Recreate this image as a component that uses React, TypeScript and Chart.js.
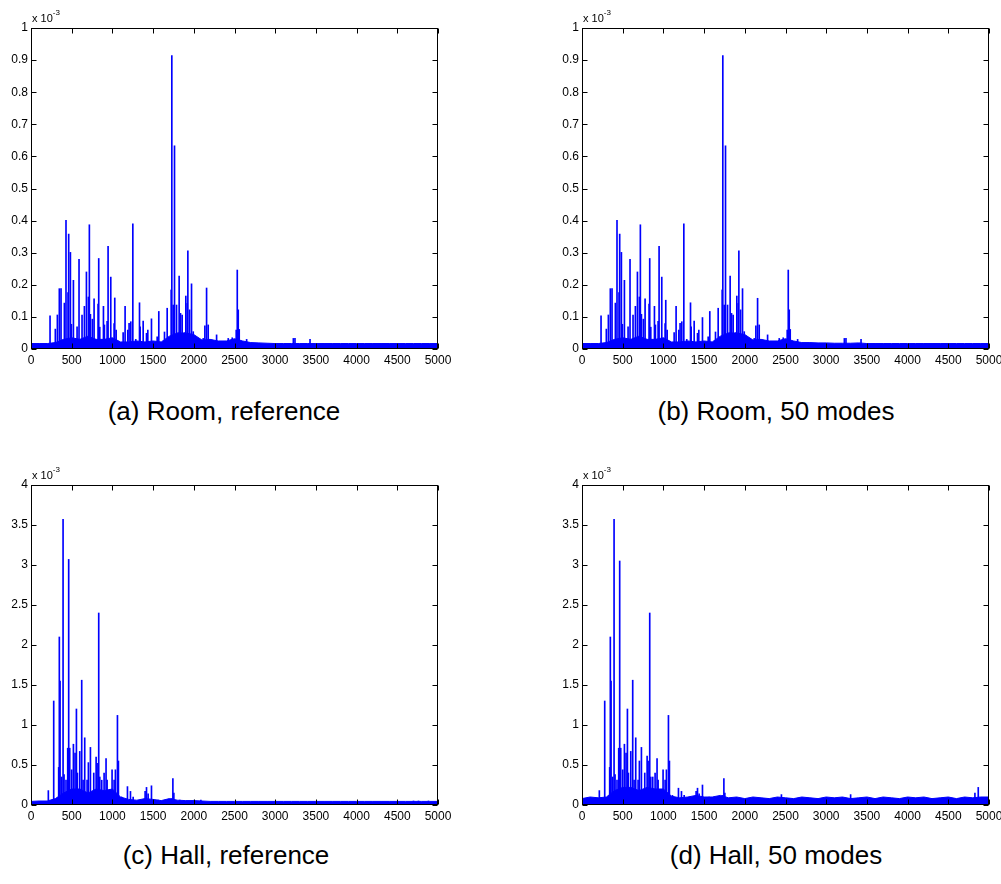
import React, { useEffect, useRef } from "react";
import { Chart, registerables } from "chart.js";
Chart.register(...registerables);

// ---------- DATA (magnitudes in units of 10^-3) ----------
const xTickLabels = ["0", "500", "1000", "1500", "2000", "2500", "3000", "3500", "4000", "4500", "5000"];
const floorStepHz = 100; // floor envelopes are sampled every 100 Hz, 0..5000

// Room: spike frequencies (Hz)
const roomFreqs = [234, 299, 324, 348, 369, 410, 430, 455, 463, 484, 496, 521, 566, 590, 627, 656, 681, 705, 717, 730, 754, 775, 824, 832, 845, 890, 902, 935, 947, 980, 1021, 1029, 1046, 1132, 1156, 1189, 1205, 1226, 1251, 1287, 1333, 1341, 1378, 1419, 1435, 1480, 1550, 1570, 1640, 1673, 1722, 1730, 1747, 1763, 1788, 1812, 1820, 1837, 1857, 1890, 1902, 1919, 1927, 1948, 1972, 1993, 2116, 2136, 2157, 2177, 2280, 2423, 2472, 2521, 2534, 2546, 2558, 2649, 3223, 3243, 3428];
// (a) Room, reference
const roomRefValues = [0.103, 0.062, 0.106, 0.188, 0.188, 0.143, 0.401, 0.176, 0.358, 0.301, 0.077, 0.214, 0.069, 0.279, 0.106, 0.133, 0.240, 0.162, 0.387, 0.108, 0.093, 0.156, 0.140, 0.282, 0.068, 0.133, 0.075, 0.086, 0.320, 0.224, 0.079, 0.159, 0.059, 0.051, 0.133, 0.059, 0.080, 0.085, 0.390, 0.030, 0.144, 0.069, 0.087, 0.049, 0.059, 0.094, 0.038, 0.117, 0.053, 0.127, 0.184, 0.914, 0.137, 0.633, 0.137, 0.050, 0.227, 0.111, 0.106, 0.050, 0.165, 0.142, 0.306, 0.122, 0.203, 0.054, 0.033, 0.072, 0.190, 0.075, 0.044, 0.033, 0.035, 0.059, 0.246, 0.122, 0.061, 0.030, 0.033, 0.033, 0.030];
// (b) Room, 50 modes
const roomModeValues = [0.103, 0.062, 0.106, 0.188, 0.188, 0.143, 0.401, 0.176, 0.358, 0.301, 0.077, 0.214, 0.069, 0.279, 0.106, 0.133, 0.240, 0.162, 0.387, 0.108, 0.093, 0.156, 0.140, 0.282, 0.068, 0.133, 0.075, 0.086, 0.320, 0.224, 0.079, 0.152, 0.059, 0.051, 0.133, 0.059, 0.080, 0.085, 0.390, 0.030, 0.144, 0.069, 0.087, 0.049, 0.059, 0.098, 0.038, 0.117, 0.053, 0.127, 0.184, 0.914, 0.137, 0.633, 0.137, 0.050, 0.227, 0.111, 0.106, 0.050, 0.165, 0.142, 0.306, 0.122, 0.188, 0.054, 0.033, 0.072, 0.158, 0.075, 0.044, 0.033, 0.035, 0.059, 0.246, 0.122, 0.061, 0.030, 0.033, 0.033, 0.030];
const roomRefFloor = [0.017, 0.017, 0.017, 0.02, 0.03, 0.035, 0.03, 0.04, 0.03, 0.03, 0.035, 0.022, 0.022, 0.025, 0.022, 0.025, 0.022, 0.04, 0.05, 0.05, 0.045, 0.028, 0.03, 0.025, 0.025, 0.032, 0.025, 0.02, 0.019, 0.018, 0.017, 0.017, 0.017, 0.017, 0.017, 0.017, 0.017, 0.017, 0.017, 0.017, 0.017, 0.017, 0.017, 0.017, 0.017, 0.017, 0.017, 0.017, 0.017, 0.017, 0.017];
const roomModeFloor = [0.017, 0.017, 0.017, 0.02, 0.03, 0.035, 0.03, 0.04, 0.03, 0.03, 0.035, 0.022, 0.022, 0.025, 0.022, 0.025, 0.022, 0.04, 0.05, 0.05, 0.045, 0.028, 0.03, 0.025, 0.025, 0.032, 0.025, 0.02, 0.02, 0.019, 0.019, 0.018, 0.018, 0.018, 0.019, 0.017, 0.017, 0.017, 0.017, 0.017, 0.017, 0.017, 0.017, 0.017, 0.017, 0.017, 0.017, 0.017, 0.017, 0.017, 0.017];

// Hall (c) reference
const hallRefFreqs = [213, 279, 320, 340, 348, 357, 377, 394, 406, 430, 451, 463, 476, 500, 521, 541, 558, 570, 599, 623, 640, 660, 689, 705, 730, 771, 800, 812, 832, 845, 869, 898, 922, 935, 996, 1021, 1037, 1062, 1074, 1111, 1185, 1222, 1255, 1402, 1419, 1439, 1480, 1562, 1652, 1726, 1743, 1755, 1829, 2005, 2087, 4699, 4760, 4883];
const hallRefValues = [0.18, 1.30, 0.06, 0.47, 2.10, 1.55, 0.35, 3.57, 0.38, 0.31, 0.71, 3.07, 0.71, 0.44, 0.76, 0.65, 1.20, 0.40, 0.67, 1.56, 0.31, 0.84, 0.31, 0.53, 0.72, 0.40, 0.60, 0.52, 2.40, 0.35, 0.31, 0.40, 0.58, 0.31, 0.44, 0.31, 0.44, 1.12, 0.55, 0.10, 0.23, 0.17, 0.10, 0.17, 0.22, 0.14, 0.24, 0.06, 0.06, 0.08, 0.33, 0.15, 0.06, 0.06, 0.06, 0.05, 0.05, 0.05];
const hallRefFloor = [0.045, 0.05, 0.05, 0.08, 0.15, 0.2, 0.2, 0.15, 0.2, 0.18, 0.2, 0.1, 0.07, 0.06, 0.08, 0.07, 0.055, 0.08, 0.06, 0.055, 0.055, 0.05, 0.045, 0.045, 0.045, 0.045, 0.045, 0.045, 0.045, 0.045, 0.045, 0.045, 0.045, 0.045, 0.045, 0.045, 0.045, 0.045, 0.045, 0.045, 0.045, 0.045, 0.045, 0.045, 0.045, 0.045, 0.045, 0.045, 0.045, 0.045, 0.045];

// Hall (d) 50 modes
const hallModeFreqs = [213, 279, 320, 340, 348, 357, 377, 394, 406, 430, 451, 463, 476, 500, 521, 541, 558, 570, 599, 623, 640, 660, 689, 705, 730, 771, 800, 812, 832, 845, 869, 898, 922, 935, 996, 1021, 1037, 1062, 1074, 1111, 1185, 1222, 1255, 1402, 1419, 1439, 1480, 1562, 1652, 1726, 1743, 1755, 2450, 3300, 4827, 4868];
const hallModeValues = [0.18, 1.30, 0.08, 0.47, 2.10, 1.55, 0.35, 3.57, 0.38, 0.31, 0.71, 3.05, 0.71, 0.44, 0.76, 0.65, 1.20, 0.40, 0.67, 1.56, 0.31, 0.84, 0.31, 0.55, 0.72, 0.40, 0.61, 0.55, 2.40, 0.35, 0.35, 0.40, 0.58, 0.31, 0.44, 0.31, 0.44, 1.12, 0.55, 0.12, 0.21, 0.17, 0.12, 0.17, 0.21, 0.14, 0.25, 0.10, 0.10, 0.12, 0.33, 0.15, 0.13, 0.13, 0.15, 0.22];
const hallModeFloor = [0.08, 0.1, 0.09, 0.1, 0.18, 0.22, 0.22, 0.18, 0.22, 0.2, 0.2, 0.11, 0.09, 0.1, 0.12, 0.1, 0.1, 0.12, 0.09, 0.1, 0.08, 0.1, 0.09, 0.08, 0.1, 0.09, 0.08, 0.1, 0.09, 0.08, 0.1, 0.09, 0.1, 0.08, 0.09, 0.1, 0.08, 0.1, 0.09, 0.08, 0.1, 0.09, 0.1, 0.08, 0.09, 0.1, 0.08, 0.1, 0.09, 0.1, 0.1];

const captions = ["(a) Room, reference", "(b) Room, 50 modes", "(c) Hall, reference", "(d) Hall, 50 modes"];

// ---------- LAYOUT ----------
const FONT = '"Liberation Sans", Arial, Helvetica, sans-serif';
const BLUE = "#0000ff";

type PanelSpec = {
  left: number; top: number; width: number; height: number;
  areaL: number; areaR: number; areaT: number; areaB: number;
  yMax: number; yStep: number;
  freqs: number[]; values: number[]; floor: number[];
};

const panels: PanelSpec[] = [
  { left: 0, top: 0, width: 460, height: 372, areaL: 31, areaR: 438, areaT: 28, areaB: 349, yMax: 1, yStep: 0.1, freqs: roomFreqs, values: roomRefValues, floor: roomRefFloor },
  { left: 551, top: 0, width: 450, height: 372, areaL: 31, areaR: 438, areaT: 28, areaB: 349, yMax: 1, yStep: 0.1, freqs: roomFreqs, values: roomModeValues, floor: roomModeFloor },
  { left: 0, top: 458, width: 460, height: 372, areaL: 31, areaR: 438, areaT: 27, areaB: 347, yMax: 4, yStep: 0.5, freqs: hallRefFreqs, values: hallRefValues, floor: hallRefFloor },
  { left: 551, top: 458, width: 450, height: 372, areaL: 31, areaR: 438, areaT: 27, areaB: 347, yMax: 4, yStep: 0.5, freqs: hallModeFreqs, values: hallModeValues, floor: hallModeFloor },
];

const captionPos = [
  { cx: 224, top: 396 },
  { cx: 776, top: 396 },
  { cx: 226, top: 840 },
  { cx: 776, top: 840 },
];

const matlabAxes = {
  id: "matlabAxes",
  afterDraw(chart: any) {
    const { ctx, chartArea: a, scales } = chart;
    ctx.save();
    ctx.strokeStyle = "#000";
    ctx.lineWidth = 1;
    const L = Math.round(a.left) + 0.5;
    const R = Math.round(a.right) - 0.5;
    const T = Math.round(a.top) + 0.5;
    const B = Math.round(a.bottom) - 0.5;
    ctx.strokeRect(L, T, R - L, B - T);
    const tl = 5;
    ctx.beginPath();
    scales.x.ticks.forEach((t: any) => {
      const px = Math.round(scales.x.getPixelForValue(t.value)) + 0.5;
      ctx.moveTo(px, B); ctx.lineTo(px, B - tl);
      ctx.moveTo(px, T); ctx.lineTo(px, T + tl);
    });
    scales.y.ticks.forEach((t: any) => {
      const py = Math.round(scales.y.getPixelForValue(t.value)) + 0.5;
      ctx.moveTo(L, py); ctx.lineTo(L + tl, py);
      ctx.moveTo(R, py); ctx.lineTo(R - tl, py);
    });
    ctx.stroke();
    ctx.fillStyle = "#000";
    ctx.textBaseline = "alphabetic";
    ctx.textAlign = "left";
    ctx.font = `11px ${FONT}`;
    ctx.fillText("x 10", a.left + 1, a.top - 6);
    const w = ctx.measureText("x 10").width;
    ctx.font = `8px ${FONT}`;
    ctx.fillText("-3", a.left + 1 + w, a.top - 13);
    ctx.restore();
  },
};

function Panel({ spec }: { spec: PanelSpec }) {
  const ref = useRef<HTMLCanvasElement>(null);
  useEffect(() => {
    const canvas = ref.current!;
    const spikes = spec.freqs.map((f, i) => ({ x: f, y: spec.values[i] }));
    const floorPts = spec.floor.map((v, i) => ({ x: i * floorStepHz, y: v }));
    const chart = new Chart(canvas, {
      type: "bar",
      data: {
        datasets: [
          {
            type: "line",
            data: floorPts,
            borderColor: BLUE,
            backgroundColor: BLUE,
            borderWidth: 1,
            pointRadius: 0,
            fill: "origin",
            tension: 0,
          } as any,
          {
            type: "bar",
            data: spikes,
            backgroundColor: BLUE,
            borderWidth: 0,
            barThickness: 1,
            grouped: false,
          } as any,
        ],
      },
      options: {
        responsive: false,
        animation: false,
        events: [],
        layout: {
          padding: {
            left: 0,
            top: spec.areaT,
            right: spec.width - spec.areaR,
            bottom: 0,
          },
        },
        plugins: { legend: { display: false }, tooltip: { enabled: false } },
        scales: {
          x: {
            type: "linear",
            offset: false,
            min: 0,
            max: 5000,
            grid: { display: false, drawTicks: false },
            border: { display: false },
            ticks: {
              stepSize: 500,
              autoSkip: false,
              maxRotation: 0,
              padding: 4,
              color: "#000",
              font: { family: FONT, size: 12 },
              callback: (v: any, i: number) => xTickLabels[i] ?? String(v),
            },
            afterFit: (s: any) => {
              s.height = spec.height - spec.areaB;
              s.paddingLeft = 0; s.paddingRight = 0;
            },
          },
          y: {
            type: "linear",
            min: 0,
            max: spec.yMax,
            grid: { display: false, drawTicks: false },
            border: { display: false },
            ticks: {
              stepSize: spec.yStep,
              autoSkip: false,
              padding: 3,
              color: "#000",
              font: { family: FONT, size: 12 },
              callback: (v: any) => String(+Number(v).toFixed(3)),
            },
            afterFit: (s: any) => {
              s.width = spec.areaL;
              s.paddingTop = 0; s.paddingBottom = 0;
            },
          },
        },
      },
      plugins: [matlabAxes],
    } as any);
    return () => chart.destroy();
  }, [spec]);
  return (
    <div style={{ position: "absolute", left: spec.left, top: spec.top, width: spec.width, height: spec.height }}>
      <canvas ref={ref} width={spec.width} height={spec.height} style={{ display: "block" }} />
    </div>
  );
}

export default function App() {
  return (
    <div style={{ position: "absolute", left: 0, top: 0, width: 1001, height: 884, background: "#fff", overflow: "hidden" }}>
      {panels.map((p, i) => (
        <Panel key={i} spec={p} />
      ))}
      {captions.map((c, i) => (
        <div
          key={"c" + i}
          style={{
            position: "absolute",
            left: captionPos[i].cx - 200,
            width: 400,
            top: captionPos[i].top,
            textAlign: "center",
            fontFamily: FONT,
            fontSize: 26,
            lineHeight: "30px",
            color: "#000",
            whiteSpace: "nowrap",
          }}
        >
          {c}
        </div>
      ))}
    </div>
  );
}
